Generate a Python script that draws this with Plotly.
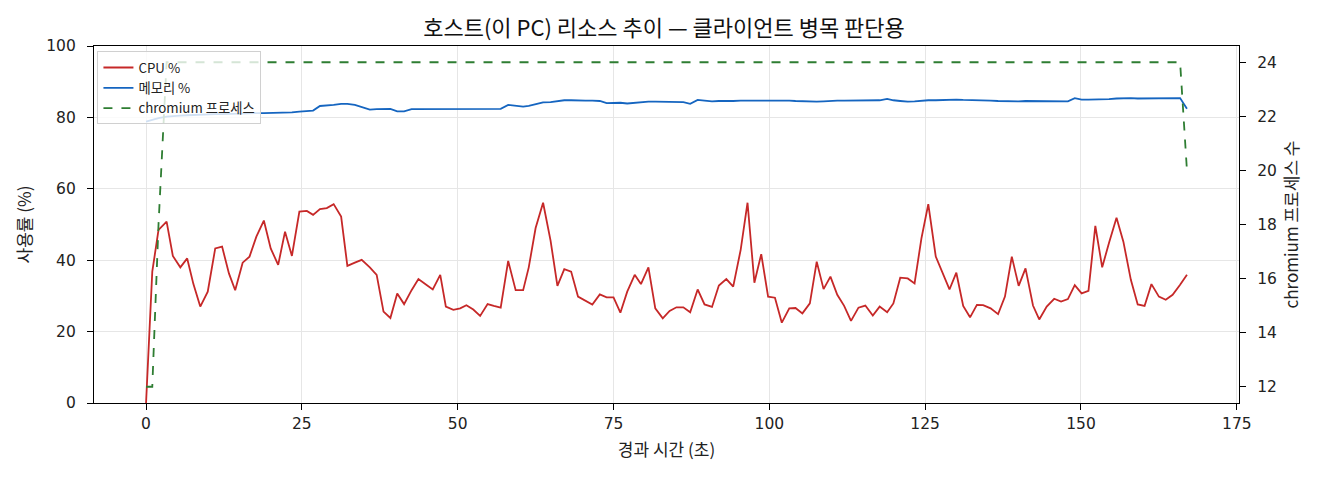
import plotly.graph_objects as go

t_sec = [0.0, 1.0, 2.0, 3.3, 4.3, 5.5, 6.6, 7.6, 8.7, 9.9, 11.1, 12.2, 13.3, 14.3, 15.5, 16.6, 17.7, 18.9,
         20.0, 21.2, 22.3, 23.4, 24.6, 25.8, 26.8, 27.9, 29.0, 30.1, 31.3, 32.3, 33.5, 34.6, 35.9, 37.0,
         38.1, 39.2, 40.3, 41.4, 42.6, 43.7, 44.9, 46.0, 47.2, 48.1, 49.3, 50.4, 51.4, 52.5, 53.6, 54.8,
         55.8, 56.9, 58.1, 59.3, 60.5, 61.4, 62.5, 63.7, 64.9, 66.0, 67.1, 68.2, 69.3, 70.5, 71.6, 72.8,
         73.9, 75.0, 76.1, 77.2, 78.4, 79.4, 80.6, 81.7, 82.9, 84.0, 85.1, 86.2, 87.3, 88.5, 89.6, 90.8,
         91.9, 93.1, 94.2, 95.4, 96.5, 97.6, 98.7, 99.8, 100.9, 102.0, 103.2, 104.2, 105.3, 106.5, 107.6,
         108.7, 109.8, 110.9, 112.0, 113.1, 114.3, 115.4, 116.6, 117.7, 118.9, 119.9, 121.0, 122.2, 123.3,
         124.4, 125.5, 126.7, 127.8, 128.9, 130.0, 131.1, 132.2, 133.3, 134.3, 135.5, 136.7, 137.8, 138.9,
         140.0, 141.1, 142.3, 143.3, 144.5, 145.7, 146.8, 147.9, 149.0, 150.1, 151.2, 152.3, 153.4, 154.5,
         155.7, 156.8, 158.0, 159.1, 160.2, 161.3, 162.5, 163.6, 164.7, 165.9, 167.0]

cpu_pct = [0.0, 36.8, 48.5, 50.8, 41.2, 38.0, 40.5, 33.3, 27.0, 31.2, 43.3, 43.8, 36.3, 31.6, 39.3, 41.0, 46.6, 51.1,
           43.3, 38.7, 48.0, 41.2, 53.6, 53.8, 52.7, 54.3, 54.6, 55.7, 52.2, 38.4, 39.3, 40.1, 38.0, 35.9,
           25.6, 23.8, 30.7, 27.7, 31.6, 34.7, 33.2, 31.8, 35.9, 27.0, 26.1, 26.5, 27.4, 26.2, 24.4, 27.7,
           27.2, 26.7, 39.8, 31.6, 31.6, 38.0, 49.0, 56.1, 45.5, 32.8, 37.5, 36.8, 29.8, 28.6, 27.6, 30.4,
           29.6, 29.6, 25.3, 31.2, 35.9, 33.3, 38.0, 26.5, 23.7, 25.8, 26.8, 26.8, 25.4, 31.8, 27.6, 26.9,
           32.9, 34.7, 32.6, 42.9, 56.1, 33.7, 41.7, 29.8, 29.5, 22.5, 26.5, 26.6, 25.1, 27.9, 39.6,
           31.9, 35.4, 30.3, 27.2, 23.0, 26.7, 27.3, 24.5, 27.0, 25.4, 27.9, 35.1, 34.9, 33.5,
           46.1, 55.7, 41.0, 36.3, 31.8, 36.5, 27.2, 24.0, 27.5, 27.4, 26.5, 24.9, 29.8, 41.0,
           32.8, 37.7, 27.3, 23.4, 27.0, 29.2, 28.4, 29.1, 33.0, 30.7, 31.4, 49.6, 38.0, 44.9,
           51.9, 45.2, 34.5, 27.6, 27.2, 33.3, 29.8, 28.9, 30.3, 33.1, 35.9]

mem_pct = [78.8, 79.3, 79.8, 80.2, 80.4, 80.5, 80.6, 80.7, 80.8, 80.8, 80.9, 80.9, 81.0, 81.0, 81.1, 81.1, 81.2, 81.2,
           81.2, 81.3, 81.3, 81.4, 81.6, 81.8, 81.9, 83.2, 83.3, 83.5, 83.8, 83.8, 83.5, 82.9, 82.2, 82.3,
           82.3, 82.4, 81.7, 81.7, 82.3, 82.3, 82.5, 82.5, 82.5, 82.5, 82.5, 82.5, 82.5, 82.5, 82.4, 82.4,
           82.4, 82.4, 83.5, 83.3, 83.0, 83.2, 83.6, 84.2, 84.3, 84.6, 84.8, 84.8, 84.7, 84.7, 84.7, 84.6,
           84.0, 84.1, 84.1, 83.9, 84.1, 84.4, 84.4, 84.4, 84.4, 84.4, 84.4, 84.3, 83.8, 84.9, 84.7, 84.5,
           84.6, 84.5, 84.6, 84.7, 84.7, 84.8, 84.8, 84.9, 84.9, 84.8, 84.7, 84.6, 84.5, 84.5, 84.4,
           84.5, 84.7, 84.7, 84.7, 84.7, 84.7, 84.6, 84.6, 84.8, 85.2, 84.8, 84.6, 84.4, 84.5,
           84.7, 84.8, 84.8, 84.9, 85.0, 85.0, 84.9, 84.9, 84.9, 84.8, 84.7, 84.6, 84.5, 84.4,
           84.5, 84.6, 84.6, 84.6, 84.7, 84.7, 84.6, 84.5, 85.4, 85.0, 85.0, 85.0, 85.1, 85.1,
           85.3, 85.4, 85.4, 85.3, 85.3, 85.4, 85.4, 85.5, 85.5, 85.4, 82.4]

chromium_n = [12, 12, 18] + [24] * (len(t_sec) - 4) + [20]

title_text = "호스트(이 PC) 리소스 추이 — 클라이언트 병목 판단용"
x_title = "경과 시간 (초)"
y_title = "사용률 (%)"
y2_title = "chromium 프로세스 수"
names = ["CPU %", "메모리 %", "chromium 프로세스"]

FONT = "Noto Sans CJK KR"
TICKFONT = dict(family="DejaVu Sans", size=15.5, color="#222")

fig = go.Figure()
fig.add_trace(go.Scatter(x=t_sec, y=cpu_pct, mode="lines", name=names[0],
                         line=dict(color="#c62828", width=1.8)))
fig.add_trace(go.Scatter(x=t_sec, y=mem_pct, mode="lines", name=names[1],
                         line=dict(color="#1565c0", width=1.8)))
fig.add_trace(go.Scatter(x=t_sec, y=chromium_n, mode="lines", name=names[2], yaxis="y2",
                         line=dict(color="#2e7d32", width=1.8, dash="dash")))

axis_common = dict(showline=True, linecolor="black", linewidth=1.2, ticks="outside", ticklen=6,
                   tickcolor="black", tickfont=TICKFONT, zeroline=False)

fig.update_layout(
    width=1312, height=472,
    margin=dict(l=86, r=81, t=38, b=77),
    paper_bgcolor="white", plot_bgcolor="white",
    font=dict(family=FONT, color="#222"),
    title=dict(text=title_text, x=0.5, xanchor="center", y=0.958, yanchor="middle",
               font=dict(size=22, color="#111")),
    showlegend=True,
    legend=dict(x=0.003, y=0.985, xanchor="left", yanchor="top",
                bgcolor="rgba(255,255,255,0.8)", bordercolor="#d0d0d0", borderwidth=1,
                font=dict(size=13.3, color="#222"), tracegroupgap=5, itemwidth=30),
    xaxis=dict(range=[-8.35, 175.35], tickvals=[0, 25, 50, 75, 100, 125, 150, 175],
               showgrid=True, gridcolor="#e6e6e6", mirror=True, ticklabelstandoff=0,
               title=dict(text=x_title, font=dict(size=17), standoff=12), **axis_common),
    yaxis=dict(range=[0, 100], tickvals=[0, 20, 40, 60, 80, 100],
               showgrid=True, gridcolor="#e6e6e6", mirror=True, ticklabelstandoff=8,
               title=dict(text=y_title, font=dict(size=17), standoff=10), **axis_common),
    yaxis2=dict(range=[11.4, 24.6], tickvals=[12, 14, 16, 18, 20, 22, 24], overlaying="y",
                side="right", showgrid=False, ticklabelstandoff=8,
                title=dict(text=y2_title, font=dict(size=17), standoff=10), **axis_common),
)

fig.write_html("out.html")
